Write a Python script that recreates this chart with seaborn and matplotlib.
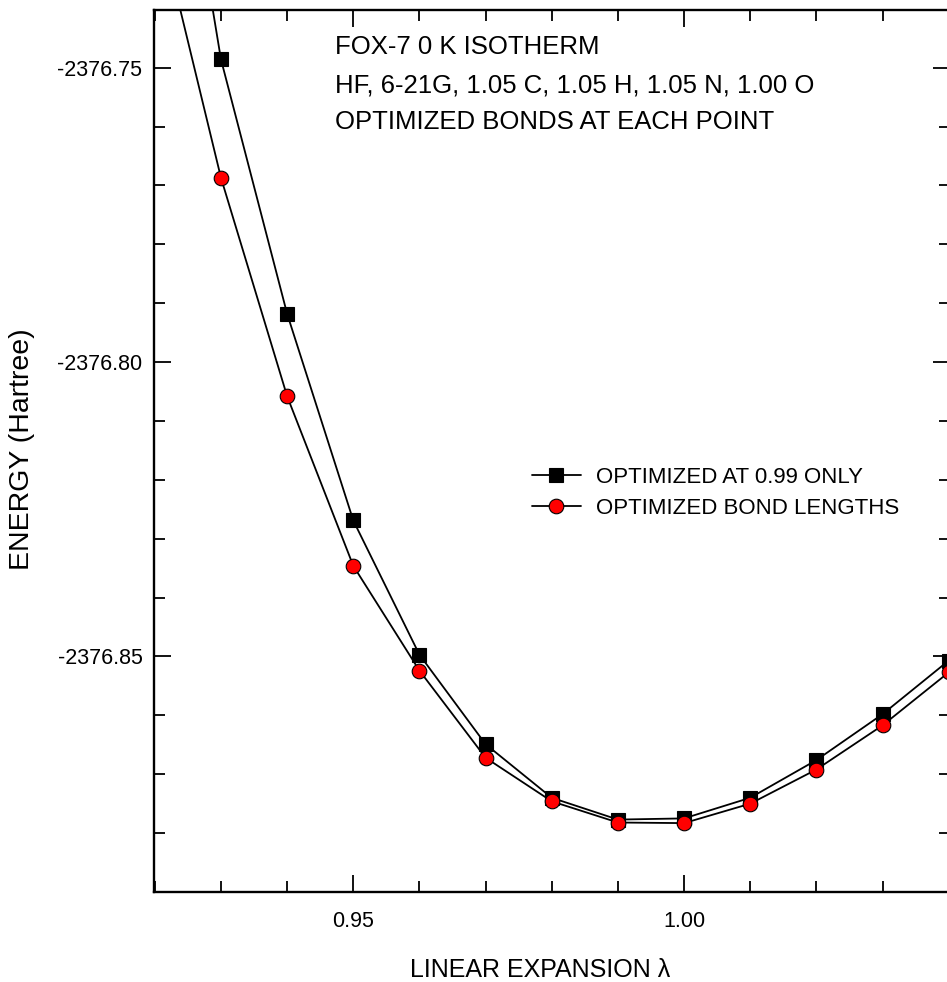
import matplotlib
matplotlib.use("Agg")
import matplotlib.pyplot as plt
from matplotlib.ticker import MultipleLocator, FormatStrFormatter
import seaborn as sns
import pandas as pd

# Linear expansion factor (lambda)
expansion = [0.92, 0.93, 0.94, 0.95, 0.96, 0.97, 0.98, 0.99, 1.00, 1.01, 1.02, 1.03, 1.04]

# Total energy (Hartree), bonds optimized only at lambda = 0.99
energy_fixed = [-2376.6804, -2376.7486, -2376.7918, -2376.8269, -2376.8497, -2376.8649,
                -2376.8740, -2376.8777, -2376.8775, -2376.8740, -2376.8676, -2376.8598,
                -2376.8507]

# Total energy (Hartree), bond lengths optimized at every point
energy_relaxed = [-2376.7223, -2376.7687, -2376.8058, -2376.8346, -2376.8524, -2376.8672,
                  -2376.8746, -2376.8782, -2376.8783, -2376.8750, -2376.8692, -2376.8617,
                  -2376.8527]

series_labels = ["OPTIMIZED AT 0.99 ONLY", "OPTIMIZED BOND LENGTHS"]
title_lines = ["FOX-7 0 K ISOTHERM",
               "HF, 6-21G, 1.05 C, 1.05 H, 1.05 N, 1.00 O",
               "OPTIMIZED BONDS AT EACH POINT"]

df_fixed = pd.DataFrame({"lam": expansion, "E": energy_fixed})
df_relaxed = pd.DataFrame({"lam": expansion, "E": energy_relaxed})

sns.set_style("ticks")
plt.rcParams["font.family"] = ["Liberation Sans", "DejaVu Sans"]
plt.rcParams["text.color"] = "black"
plt.rcParams["xtick.color"] = "black"
plt.rcParams["ytick.color"] = "black"
plt.rcParams["xtick.labelcolor"] = "black"
plt.rcParams["ytick.labelcolor"] = "black"

W, H = 947, 982
fig = plt.figure(figsize=(W / 100, H / 100), dpi=100)
# axes box in pixel terms: left 153.5, right 950, top 10, bottom 892
ax = fig.add_axes([153.5 / W, (H - 892) / H, (950 - 153.5) / W, (892 - 10) / H])

sns.lineplot(data=df_fixed, x="lam", y="E", ax=ax, color="black", lw=1.3,
             marker="s", markersize=9.5, markerfacecolor="black",
             markeredgecolor="black", markeredgewidth=0.8,
             label=series_labels[0], clip_on=True, zorder=3)
sns.lineplot(data=df_relaxed, x="lam", y="E", ax=ax, color="black", lw=1.3,
             marker="o", markersize=10.5, markerfacecolor="red",
             markeredgecolor="black", markeredgewidth=0.8,
             label=series_labels[1], clip_on=True, zorder=4)

ax.set_xlim(0.9198, 1.0402)
ax.set_ylim(-2376.89, -2376.7402)

ax.xaxis.set_major_locator(MultipleLocator(0.05))
ax.xaxis.set_minor_locator(MultipleLocator(0.01))
ax.yaxis.set_major_locator(MultipleLocator(0.05))
ax.yaxis.set_minor_locator(MultipleLocator(0.01))
ax.xaxis.set_major_formatter(FormatStrFormatter("%.2f"))
ax.yaxis.set_major_formatter(FormatStrFormatter("%.2f"))

ax.tick_params(which="both", direction="in", top=True, right=True,
               width=1.3, colors="black", labelsize=15.5)
ax.tick_params(axis="x", which="major", pad=14)
ax.tick_params(axis="y", which="major", pad=8)
ax.tick_params(which="major", length=12)
ax.tick_params(which="minor", length=8)
for s in ax.spines.values():
    s.set_linewidth(1.7)
    s.set_color("black")

ax.set_xlabel("")
ax.set_ylabel("")
fig.text(540 / W, 1 - 970 / H, "LINEAR EXPANSION \u03bb", ha="center", va="center",
         fontsize=18, color="black")
fig.text(22 / W, 1 - 449 / H, "ENERGY (Hartree)", ha="center", va="center",
         rotation=90, fontsize=20.5, color="black")

for i, line in enumerate(title_lines):
    fig.text(335 / W, 1 - [47, 85, 122][i] / H, line, ha="left", va="center",
             fontsize=18.5, color="black")

leg = ax.legend(loc="center left", bbox_to_anchor=(532 / W, 1 - 492.5 / H),
                bbox_transform=fig.transFigure, frameon=False, fontsize=16,
                handlelength=2.2, handletextpad=0.7, borderpad=0, borderaxespad=0,
                labelspacing=0.45)
for t in leg.get_texts():
    t.set_color("black")

fig.savefig("out.png", dpi=100)
